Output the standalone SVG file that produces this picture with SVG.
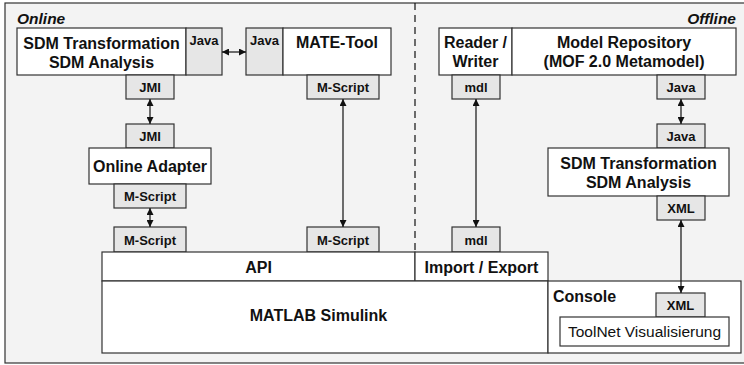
<svg xmlns="http://www.w3.org/2000/svg" width="744" height="365" viewBox="0 0 744 365">
<style>
.box{fill:#ffffff;stroke:#333333;stroke-width:1.2}
.tag{fill:#e6e6e6;stroke:#333333;stroke-width:1.2}
.big{font-family:"Liberation Sans",Arial,sans-serif;font-weight:bold;font-size:16px;fill:#111;text-anchor:middle}
.lft{text-anchor:start}
.sm{font-family:"Liberation Sans",Arial,sans-serif;font-weight:bold;font-size:13px;fill:#111;text-anchor:middle}
.it{font-family:"Liberation Sans",Arial,sans-serif;font-weight:bold;font-style:italic;font-size:15.5px;fill:#111}
.reg{font-family:"Liberation Sans",Arial,sans-serif;font-size:15.5px;fill:#111;text-anchor:middle}
.conn{stroke:#111;stroke-width:1.2;fill:none;marker-start:url(#ah);marker-end:url(#ah)}
</style>
<defs>
<marker id="ah" viewBox="0 0 10 10" refX="10" refY="5" markerWidth="7" markerHeight="7" markerUnits="userSpaceOnUse" orient="auto-start-reverse">
<path d="M0,0 L10,5 L0,10 z" fill="#111"/>
</marker>
</defs>
<rect x="0" y="0" width="744" height="365" fill="#ffffff"/>
<rect id="frame" x="5" y="3" width="740" height="360" fill="#f3f3f3" stroke="#333333" stroke-width="1.2"/>
<line x1="415" y1="3" x2="415" y2="252" stroke="#111" stroke-width="1.2" stroke-dasharray="7,5"/>
<text class="it" x="17" y="23.5">Online</text>
<text class="it" x="736" y="23.5" text-anchor="end">Offline</text>

<g id="sdm-left">
<rect class="box" x="17" y="28" width="169" height="47"/>
<text class="big" x="101.5" y="49">SDM Transformation</text>
<text class="big" x="101.5" y="68">SDM Analysis</text>
<rect class="tag" x="186" y="28" width="36" height="47"/>
<text class="sm" x="204" y="45">Java</text>
<rect class="tag" x="126" y="75" width="48" height="24"/>
<text class="sm" x="150" y="92">JMI</text>
</g>

<g id="mate-tool">
<rect class="tag" x="246" y="28" width="37" height="47"/>
<text class="sm" x="264.5" y="45">Java</text>
<rect class="box" x="283" y="28" width="108" height="47"/>
<text class="big" x="337" y="48">MATE-Tool</text>
<rect class="tag" x="307" y="75" width="72" height="24"/>
<text class="sm" x="343" y="92">M-Script</text>
</g>

<g id="online-adapter">
<rect class="tag" x="126" y="124" width="48" height="24"/>
<text class="sm" x="150" y="141">JMI</text>
<rect class="box" x="89" y="148" width="122" height="36"/>
<text class="big" x="150" y="172">Online Adapter</text>
<rect class="tag" x="114" y="184" width="72" height="24"/>
<text class="sm" x="150" y="201">M-Script</text>
</g>

<g id="reader-writer">
<rect class="box" x="439" y="28" width="73" height="47"/>
<text class="big" x="475.5" y="48">Reader /</text>
<text class="big" x="475.5" y="67">Writer</text>
<rect class="tag" x="452" y="75" width="48" height="24"/>
<text class="sm" x="476" y="92">mdl</text>
</g>

<g id="model-repository">
<rect class="box" x="512" y="28" width="224" height="47"/>
<text class="big" x="624" y="48">Model Repository</text>
<text class="big" x="624" y="67">(MOF 2.0 Metamodel)</text>
<rect class="tag" x="657" y="75" width="48" height="24"/>
<text class="sm" x="681" y="92">Java</text>
</g>

<g id="sdm-right">
<rect class="tag" x="657" y="124" width="48" height="24"/>
<text class="sm" x="681" y="141">Java</text>
<rect class="box" x="548" y="148" width="181" height="48"/>
<text class="big" x="638.5" y="168.5">SDM Transformation</text>
<text class="big" x="638.5" y="187.5">SDM Analysis</text>
<rect class="tag" x="657" y="196" width="48" height="24"/>
<text class="sm" x="681" y="213">XML</text>
</g>

<g id="api">
<rect class="tag" x="114" y="227" width="72" height="25"/>
<text class="sm" x="150" y="245">M-Script</text>
<rect class="tag" x="307" y="227" width="72" height="25"/>
<text class="sm" x="343" y="245">M-Script</text>
<rect class="box" x="102" y="252" width="313" height="29"/>
<text class="big" x="258.5" y="273">API</text>
</g>

<g id="import-export">
<rect class="tag" x="452" y="227" width="48" height="25"/>
<text class="sm" x="476" y="245">mdl</text>
<rect class="box" x="415" y="252" width="133" height="29"/>
<text class="big" x="481.5" y="273">Import / Export</text>
</g>

<g id="matlab-simulink">
<rect class="box" x="102" y="281" width="446" height="72"/>
<text class="big" x="318.5" y="321">MATLAB Simulink</text>
</g>

<g id="console">
<rect class="box" x="548" y="281" width="193" height="72"/>
<text class="big lft" x="553" y="302">Console</text>
<rect class="tag" x="656" y="293" width="49" height="24"/>
<text class="sm" x="680.5" y="310">XML</text>
<rect class="box" x="560" y="317" width="169" height="29"/>
<text class="reg" x="644.5" y="337">ToolNet Visualisierung</text>
</g>

<g id="connectors">
<line class="conn" x1="222" y1="52" x2="246" y2="52"/>
<line class="conn" x1="150" y1="99" x2="150" y2="124"/>
<line class="conn" x1="150" y1="208" x2="150" y2="227"/>
<line class="conn" x1="343" y1="99" x2="343" y2="227"/>
<line class="conn" x1="476" y1="99" x2="476" y2="227"/>
<line class="conn" x1="681" y1="99" x2="681" y2="124"/>
<line class="conn" x1="681" y1="220" x2="681" y2="293"/>
</g>
</svg>
